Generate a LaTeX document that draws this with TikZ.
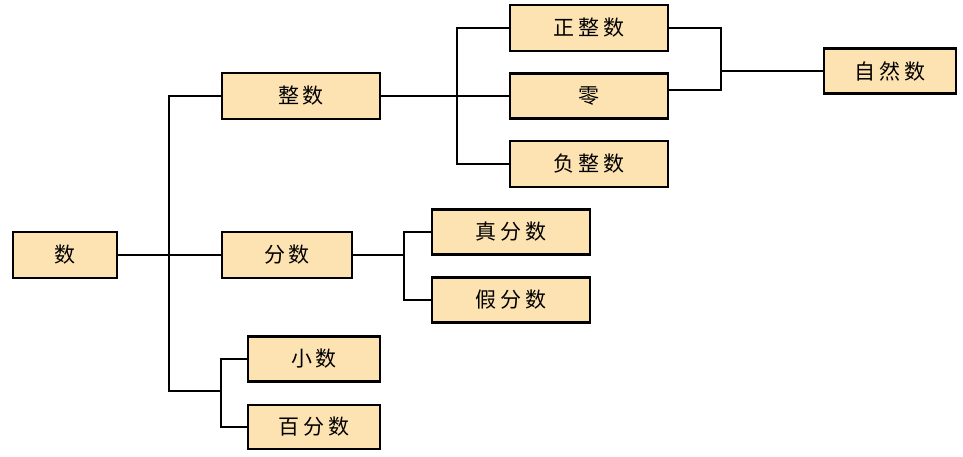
\documentclass[tikz,border=0pt]{standalone}
\usepackage{fontspec}
\newfontfamily\cjk[LetterSpace=18]{Noto Sans CJK SC}
\definecolor{boxfill}{RGB}{253,227,178}
\begin{document}
\begin{tikzpicture}[x=1pt,y=-1pt,
  box/.style={draw=black,fill=boxfill,line width=2.2pt,rectangle,inner sep=0pt,
    font=\cjk\fontsize{21}{21}\selectfont},
  link/.style={line width=2.2pt,black}]
\useasboundingbox (0,0) rectangle (963,456);
\node[box,minimum width=104,minimum height=46] (shu) at (65,255) {数};
\node[box,minimum width=158,minimum height=46] (zhengshu) at (301,96) {整数};
\node[box,minimum width=130,minimum height=46] (fenshu) at (287,255) {分数};
\node[box,minimum width=158,minimum height=46] (zzs) at (589,28) {正整数};
\node[box,minimum width=158,minimum height=45] (ling) at (589,96) {零};
\node[box,minimum width=158,minimum height=46] (fzs) at (589,164) {负整数};
\node[box,minimum width=132,minimum height=45] (zrs) at (890,71) {自然数};
\node[box,minimum width=158,minimum height=45] (zfs) at (511,232) {真分数};
\node[box,minimum width=158,minimum height=45] (jfs) at (511,300) {假分数};
\node[box,minimum width=132,minimum height=45] (xs) at (314,359) {小数};
\node[box,minimum width=132,minimum height=44] (bfs) at (314,427) {百分数};
\coordinate (j1) at (222,391);
\coordinate (j2) at (720,71);
% trunk
\draw[link] (shu.east) -- (fenshu.west);
\draw[link] (zhengshu.west) -- ++(-52,0) |- (j1);
\draw[link] (xs.west) -- ++(-26,0) |- (bfs.west);
% integers
\draw[link] (zhengshu.east) -- (ling.west);
\draw[link] (zzs.west) -- ++(-52,0) |- (fzs.west);
% fractions
\draw[link] (fenshu.east) -- ++(52,0);
\draw[link] (zfs.west) -- ++(-27,0) |- (jfs.west);
% natural numbers
\draw[link] (zzs.east) -- ++(52,0) |- ([yshift=6pt]ling.east);
\draw[link] (j2) -- (zrs.west);
\end{tikzpicture}
\end{document}
